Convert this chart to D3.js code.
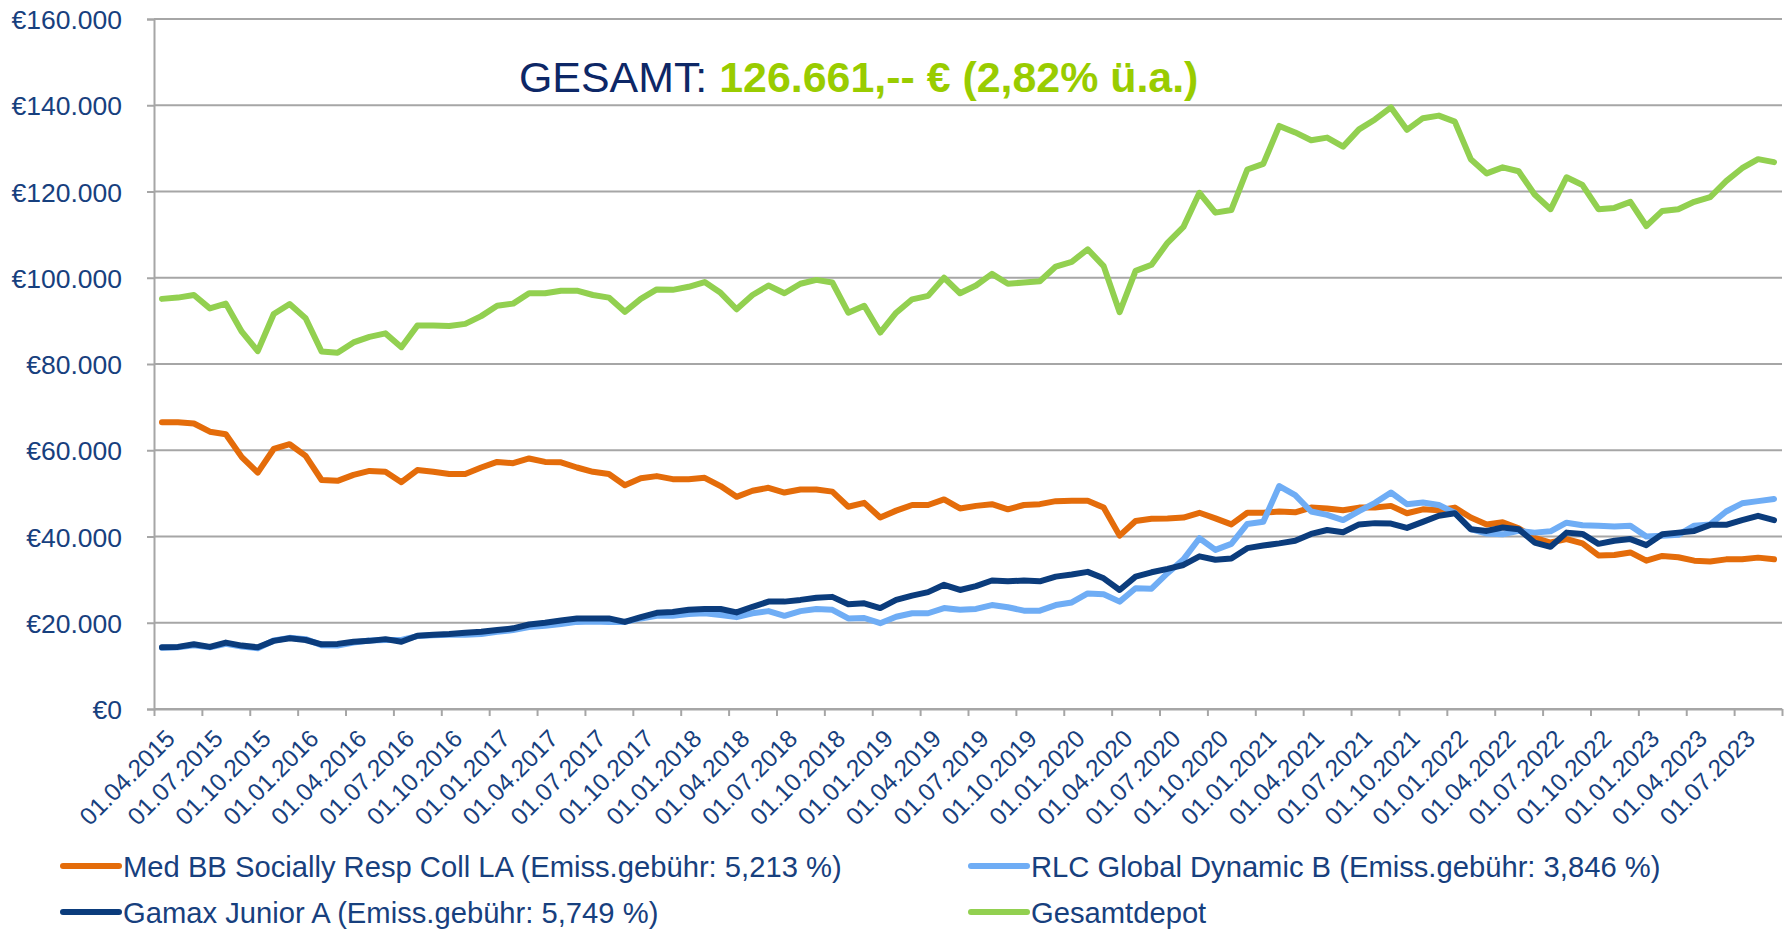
<!DOCTYPE html>
<html>
<head>
<meta charset="utf-8">
<script src="https://cdn.jsdelivr.net/npm/d3@7"></script>
<style>
    body { margin: 0; background: #fff; }
    svg { display: block; font-family: "Liberation Sans", Arial, sans-serif; }
    .axis-label { fill: #17407e; }
</style>
</head>
<body>
<svg id="chart"></svg>
<script>
// Monthly values (EUR), 01.04.2015 .. 01.09.2023
const medBB = [
    66500, 66500, 66200, 64300, 63700, 58400, 54800, 60300, 61400, 58700,
    53100, 52900, 54300, 55200, 55000, 52600, 55400, 55000, 54500, 54500,
    56000, 57300, 57000, 58100, 57300, 57200, 56000, 55000, 54500, 51900,
    53500, 54000, 53300, 53300, 53600, 51700, 49200, 50600, 51300, 50200,
    50900, 50900, 50400, 46900, 47800, 44400, 46000, 47300, 47300, 48600,
    46500, 47100, 47500, 46300, 47300, 47500, 48200, 48300, 48300, 46700,
    40200, 43600, 44100, 44200, 44400, 45500, 44200, 42800, 45500, 45500,
    45800, 45600, 46700, 46500, 46100, 46700, 46700, 47100, 45400, 46300,
    46100, 46700, 44400, 42800, 43300, 41900, 39700, 38600, 39400, 38400,
    35600, 35700, 36300, 34400, 35500, 35200, 34400, 34200, 34700, 34700,
    35100, 34700
];

const rlcGlobal = [
    14200, 14300, 14800, 14300, 15100, 14500, 14100, 15900, 16500, 16200,
    14800, 14700, 15400, 15900, 16000, 16000, 16900, 17100, 17200, 17200,
    17400, 17900, 18300, 19000, 19300, 19700, 20200, 20300, 20200, 20200,
    21000, 21600, 21600, 22000, 22200, 21800, 21300, 22200, 22700, 21600,
    22700, 23200, 23000, 21000, 21100, 19900, 21400, 22200, 22200, 23400,
    23000, 23200, 24100, 23600, 22800, 22800, 24100, 24700, 26800, 26600,
    24900, 28000, 27900, 31500, 34700, 39600, 36900, 38300, 42900, 43400,
    51700, 49600, 45800, 45000, 43800, 45900, 47800, 50200, 47500, 47900,
    47300, 45500, 41700, 40700, 40500, 41300, 40900, 41200, 43200, 42600,
    42500, 42300, 42500, 40000, 40200, 40400, 42500, 42800, 45800, 47700,
    48200, 48700
];

const gamax = [
    14300, 14400, 15000, 14400, 15400, 14700, 14300, 15800, 16400, 16000,
    15000, 15100, 15600, 15800, 16200, 15600, 17000, 17200, 17400, 17700,
    17900, 18300, 18700, 19600, 20000, 20500, 21000, 21000, 21000, 20200,
    21300, 22300, 22500, 23000, 23200, 23200, 22400, 23700, 24900, 24900,
    25300, 25800, 26000, 24300, 24500, 23400, 25300, 26300, 27100, 28800,
    27600, 28500, 29800, 29600, 29800, 29600, 30700, 31200, 31800, 30300,
    27600, 30700, 31700, 32500, 33400, 35400, 34600, 34900, 37300, 37900,
    38400, 39000, 40600, 41500, 41000, 42800, 43100, 43000, 42000, 43400,
    44800, 45400, 41700, 41300, 42100, 41700, 38600, 37600, 40900, 40600,
    38300, 39000, 39400, 38000, 40500, 40900, 41300, 42700, 42700, 43800,
    44800, 43800
];

const gesamtdepot = [
    95100, 95400, 96000, 92900, 94000, 87500, 83000, 91600, 93900, 90600,
    82900, 82600, 85000, 86300, 87100, 83900, 88900, 88900, 88800, 89300,
    91100, 93500, 94000, 96400, 96400, 97000, 97000, 96000, 95400, 92100,
    95100, 97300, 97200, 97900, 99000, 96500, 92700, 96000, 98200, 96400,
    98600, 99500, 98900, 91900, 93500, 87300, 91900, 95000, 95800, 100000,
    96400, 98200, 100900, 98600, 98900, 99200, 102600, 103700, 106600, 102700,
    92000, 101600, 103000, 108100, 111800, 119700, 115100, 115700, 125100, 126400,
    135200, 133700, 131900, 132500, 130400, 134400, 136700, 139500, 134300, 137000,
    137600, 136200, 127500, 124200, 125600, 124700, 119300, 115900, 123300, 121500,
    115900, 116200, 117600, 112000, 115500, 115900, 117600, 118700, 122400, 125400,
    127500, 126800
];

const months = d3.timeMonth.range(new Date(2015, 3, 1), new Date(2023, 9, 1));

const tickLabels = [
    '01.04.2015', '01.07.2015', '01.10.2015', '01.01.2016', '01.04.2016', '01.07.2016',
    '01.10.2016', '01.01.2017', '01.04.2017', '01.07.2017', '01.10.2017', '01.01.2018',
    '01.04.2018', '01.07.2018', '01.10.2018', '01.01.2019', '01.04.2019', '01.07.2019',
    '01.10.2019', '01.01.2020', '01.04.2020', '01.07.2020', '01.10.2020', '01.01.2021',
    '01.04.2021', '01.07.2021', '01.10.2021', '01.01.2022', '01.04.2022', '01.07.2022',
    '01.10.2022', '01.01.2023', '01.04.2023', '01.07.2023'
];

const yTicks = [0, 20000, 40000, 60000, 80000, 100000, 120000, 140000, 160000];

const seriesNames = [
    'Med BB Socially Resp Coll LA (Emiss.gebühr: 5,213 %)',
    'RLC Global Dynamic B (Emiss.gebühr: 3,846 %)',
    'Gamax Junior A (Emiss.gebühr: 5,749 %)',
    'Gesamtdepot'
];
const seriesColors = ['#e46c0a', '#6fadf5', '#0b3c7c', '#92d050'];

const titleLead = 'GESAMT: ';
const titleValue = '126.661,-- € (2,82% ü.a.)';

class DepotChart {
    constructor(_config, _series) {
        this.config = {
            parentElement: _config.parentElement,
            containerWidth: _config.containerWidth || 1788,
            containerHeight: _config.containerHeight || 930,
            margin: _config.margin || {top: 19, right: 6, bottom: 221, left: 154}
        };
        this.series = _series;
        this.initVis();
    }

    initVis() {
        let vis = this;

        vis.width = vis.config.containerWidth - vis.config.margin.left - vis.config.margin.right;
        vis.height = vis.config.containerHeight - vis.config.margin.top - vis.config.margin.bottom;

        vis.svg = d3.select(vis.config.parentElement)
            .attr('width', vis.config.containerWidth)
            .attr('height', vis.config.containerHeight);

        vis.chart = vis.svg.append('g')
            .attr('transform', `translate(${vis.config.margin.left},${vis.config.margin.top})`);

        // one band per month, points sit in the middle of the band
        vis.xScale = d3.scaleBand()
            .domain(d3.range(months.length))
            .range([0, vis.width]);

        // tick marks sit on the band edges
        vis.xEdge = d3.scaleLinear()
            .domain([0, months.length])
            .range([0, vis.width]);

        vis.yScale = d3.scaleLinear()
            .domain([0, 160000])
            .range([vis.height, 0]);

        const de = d3.formatLocale({decimal: ',', thousands: '.', grouping: [3], currency: ['€', '']});
        vis.yFormat = d => '€' + de.format(',.0f')(d);
    }

    renderVis() {
        let vis = this;

        // horizontal grid lines
        vis.chart.append('g')
            .selectAll('line')
            .data(yTicks)
            .join('line')
            .attr('x1', 0)
            .attr('x2', vis.width)
            .attr('y1', d => vis.yScale(d))
            .attr('y2', d => vis.yScale(d))
            .attr('stroke', '#a6a6a6')
            .attr('stroke-width', 2);

        // y axis
        const yAxis = vis.chart.append('g')
            .call(d3.axisLeft(vis.yScale).tickValues(yTicks).tickSize(7).tickPadding(25).tickFormat(vis.yFormat));
        yAxis.select('.domain').attr('stroke', '#a6a6a6').attr('stroke-width', 2);
        yAxis.selectAll('.tick line').attr('stroke', '#a6a6a6').attr('stroke-width', 2);
        yAxis.selectAll('.tick text')
            .attr('class', 'axis-label')
            .attr('font-size', 26.5)
            .attr('dy', '0.36em');

        // x axis, a tick every 3 months
        const xTickValues = d3.range(0, months.length + 1, 3);
        const xAxis = vis.chart.append('g')
            .attr('transform', `translate(0,${vis.height})`)
            .call(d3.axisBottom(vis.xEdge).tickValues(xTickValues).tickSize(7).tickSizeOuter(0)
                .tickFormat((d, i) => tickLabels[i] || ''));
        xAxis.select('.domain').attr('stroke', '#a6a6a6').attr('stroke-width', 2);
        xAxis.selectAll('.tick line').attr('stroke', '#a6a6a6').attr('stroke-width', 2);
        xAxis.selectAll('.tick text')
            .attr('class', 'axis-label')
            .attr('font-size', 24.5)
            .attr('text-anchor', 'end')
            .attr('x', 0)
            .attr('y', 0)
            .attr('dy', 0)
            .attr('transform', 'translate(22,31) rotate(-45)');

        // lines
        const line = d3.line()
            .x((d, i) => vis.xScale(i) + vis.xScale.bandwidth() / 2)
            .y(d => vis.yScale(d));

        vis.chart.append('g')
            .selectAll('path')
            .data(vis.series)
            .join('path')
            .attr('d', d => line(d.values))
            .attr('fill', 'none')
            .attr('stroke', d => d.color)
            .attr('stroke-width', 6)
            .attr('stroke-linejoin', 'round')
            .attr('stroke-linecap', 'round');

        // title
        const title = vis.svg.append('text')
            .attr('x', 519)
            .attr('y', 92)
            .attr('font-size', 42.9);
        title.append('tspan').attr('fill', '#0d2766').text(titleLead);
        title.append('tspan').attr('fill', '#99cc00').attr('font-weight', 'bold').text(titleValue);

        // legend, two columns
        const legendPos = [
            {x: 63, y: 866}, {x: 971, y: 866},
            {x: 63, y: 912}, {x: 971, y: 912}
        ];
        const legend = vis.svg.append('g')
            .selectAll('g')
            .data(vis.series)
            .join('g')
            .attr('transform', (d, i) => `translate(${legendPos[i].x},${legendPos[i].y})`);

        legend.append('line')
            .attr('x1', 0)
            .attr('x2', 56)
            .attr('stroke', d => d.color)
            .attr('stroke-width', 6)
            .attr('stroke-linecap', 'round');

        legend.append('text')
            .attr('class', 'axis-label')
            .attr('x', 60)
            .attr('dy', '0.36em')
            .attr('font-size', 29.2)
            .text(d => d.name);
    }
}

const series = [medBB, rlcGlobal, gamax, gesamtdepot].map((values, i) => ({
    name: seriesNames[i],
    color: seriesColors[i],
    values: values
}));

const depotChart = new DepotChart({parentElement: '#chart'}, series);
depotChart.renderVis();
</script>
</body>
</html>
